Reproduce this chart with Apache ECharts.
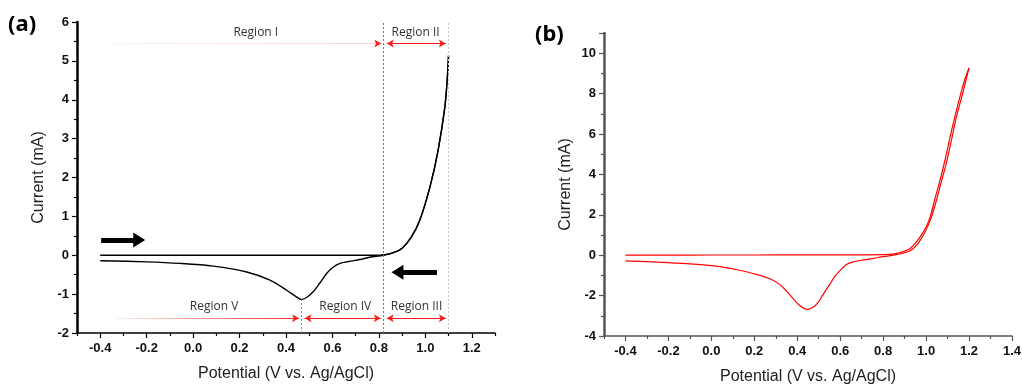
<!DOCTYPE html>
<html>
<head>
<meta charset="utf-8">
<script src="https://cdn.jsdelivr.net/npm/echarts@6/dist/echarts.min.js"></script>
<style>
  html, body { margin: 0; padding: 0; background: #fff; }
  #chart { width: 1022px; height: 387px; }
</style>
</head>
<body>
<div id="chart"></div>
<script>
// panel (a): potential (V) / current (mA)
const forwardA = [
  [-0.4, 0.0], [-0.2, 0.0], [0.0, 0.0], [0.2, 0.0], [0.4, 0.0], [0.6, 0.0], [0.7, 0.0],
  [0.78, 0.0], [0.82, 0.01], [0.86, 0.06], [0.9, 0.18], [0.94, 0.47], [0.976, 0.9],
  [1.02, 1.76], [1.055, 2.7], [1.084, 3.81], [1.094, 4.5], [1.1, 5.14]
];
const reverseA = [
  [1.1, 5.14], [1.094, 4.5], [1.084, 3.81], [1.055, 2.7], [1.02, 1.76], [0.976, 0.9],
  [0.94, 0.47], [0.9, 0.18], [0.86, 0.06], [0.82, 0.0], [0.76, -0.05], [0.718, -0.11],
  [0.67, -0.16], [0.632, -0.21], [0.6, -0.32], [0.575, -0.47], [0.545, -0.72], [0.517, -0.94],
  [0.49, -1.08], [0.467, -1.14], [0.44, -1.05], [0.403, -0.9], [0.331, -0.64], [0.231, -0.43],
  [0.087, -0.28], [-0.056, -0.21], [-0.2, -0.17], [-0.4, -0.14]
];

// panel (b)
const forwardB = [
  [-0.4, 0.0], [-0.2, 0.0], [0.0, 0.01], [0.2, 0.01], [0.4, 0.02], [0.6, 0.02], [0.8, 0.03],
  [0.86, 0.08], [0.9, 0.2], [0.926, 0.33], [0.95, 0.6], [0.972, 0.91], [1.0, 1.4],
  [1.019, 1.9], [1.04, 2.75], [1.065, 3.72], [1.09, 4.8], [1.112, 5.87], [1.135, 6.9],
  [1.158, 7.86], [1.18, 8.7], [1.2, 9.27]
];
const reverseB = [
  [1.2, 9.27], [1.17, 8.0], [1.14, 6.8], [1.12, 5.8], [1.095, 4.6], [1.07, 3.6], [1.045, 2.6],
  [1.02, 1.75], [0.99, 1.05], [0.96, 0.55], [0.93, 0.25], [0.9, 0.12], [0.86, 0.03],
  [0.833, -0.02], [0.8, -0.07], [0.755, -0.16], [0.7, -0.25], [0.66, -0.33], [0.631, -0.45],
  [0.6, -0.75], [0.575, -1.05], [0.553, -1.41], [0.52, -1.95], [0.5, -2.3], [0.48, -2.53],
  [0.462, -2.64], [0.445, -2.68], [0.43, -2.62], [0.41, -2.48], [0.385, -2.2], [0.35, -1.78],
  [0.321, -1.47], [0.28, -1.2], [0.21, -0.95], [0.12, -0.72], [0.06, -0.6], [0.0, -0.52],
  [-0.1, -0.43], [-0.2, -0.37], [-0.3, -0.32], [-0.4, -0.28]
];

const majorTicksA = [-0.4, -0.2, 0.0, 0.2, 0.4, 0.6, 0.8, 1.0, 1.2];
const minorTicksA = [-0.5, -0.3, -0.1, 0.1, 0.3, 0.5, 0.7, 0.9, 1.1, 1.3];
const majorTicksB = [-0.4, -0.2, 0.0, 0.2, 0.4, 0.6, 0.8, 1.0, 1.2, 1.4];
const minorTicksB = [-0.5, -0.3, -0.1, 0.1, 0.3, 0.5, 0.7, 0.9, 1.1, 1.3];

// region markers of panel (a)
const regionBounds = [0.467, 0.82, 1.1];
const regionLabels = ["Region I", "Region II", "Region III", "Region IV", "Region V"];

const FONT = "Liberation Sans, Arial, sans-serif";
const RED = "#ff1a1a";

const chart = echarts.init(document.getElementById("chart"));

function xAxes(gridIndex, min, max, major, minor, color) {
  return [
    {
      type: "value", gridIndex, min, max, position: "bottom",
      name: "Potential (V vs. Ag/AgCl)", nameLocation: "middle", nameGap: 33,
      nameTextStyle: { fontFamily: FONT, fontSize: 16, color: "#222" },
      axisLine: { onZero: false, lineStyle: { color, width: 1.5 } },
      axisTick: { customValues: major, length: 5, lineStyle: { color, width: 1.2 } },
      axisLabel: {
        customValues: major, margin: 9, fontFamily: FONT, fontSize: 13,
        fontWeight: "bold", color: "#111",
        formatter: v => v.toFixed(1)
      },
      splitLine: { show: false }
    },
    {
      type: "value", gridIndex, min, max, position: "bottom",
      axisLine: { show: false, onZero: false },
      axisTick: { customValues: minor, length: 3, lineStyle: { color, width: 1.2 } },
      axisLabel: { show: false },
      splitLine: { show: false }
    }
  ];
}

function yAxis(gridIndex, min, max, interval, color, hideMax) {
  return {
    type: "value", gridIndex, min, max, interval,
    name: "Current (mA)", nameLocation: "middle", nameGap: 30,
    nameTextStyle: { fontFamily: FONT, fontSize: 16, color: "#222" },
    axisLine: { show: true, onZero: false, lineStyle: { color, width: 2.5 } },
    axisTick: { show: true, length: 5, lineStyle: { color, width: 1.2 } },
    minorTick: { show: true, splitNumber: 2, length: 3, lineStyle: { color, width: 1.2 } },
    axisLabel: {
      margin: 8, fontFamily: FONT, fontSize: 13, fontWeight: "bold", color: "#111",
      formatter: v => (hideMax && v === max ? "" : String(v))
    },
    splitLine: { show: false }
  };
}

const paleRed = new echarts.graphic.LinearGradient(0, 0, 1, 0, [
  { offset: 0, color: "rgba(255,0,0,0.04)" },
  { offset: 1, color: "rgba(255,0,0,0.18)" }
]);
const fadeRed = new echarts.graphic.LinearGradient(0, 0, 1, 0, [
  { offset: 0, color: "rgba(255,0,0,0.05)" },
  { offset: 1, color: "rgba(255,0,0,0.85)" }
]);

const yTop = 5.45, yLow = -1.62;
const arrowEnd = { symbol: "arrow", symbolSize: [6, 7] };
const redLine = { color: RED, width: 1, type: "solid" };

function seg(x1, y1, x2, y2, s1, s2, lineStyle) {
  return [
    Object.assign({ coord: [x1, y1] }, s1 || { symbol: "none" }),
    Object.assign({ coord: [x2, y2], lineStyle }, s2 || { symbol: "none" })
  ];
}

const marksA = [
  // dotted region borders
  [{ coord: [regionBounds[1], -2], symbol: "none" },
   { coord: [regionBounds[1], 6], symbol: "none", lineStyle: { color: "#777", type: [2, 2], width: 1 } }],
  [{ coord: [regionBounds[2], -2], symbol: "none" },
   { coord: [regionBounds[2], 6], symbol: "none", lineStyle: { color: "#c8c8c8", type: [2, 2], width: 1 } }],
  [{ coord: [regionBounds[0], -2], symbol: "none" },
   { coord: [regionBounds[0], -1.14], symbol: "none", lineStyle: { color: "#888", type: [2, 2], width: 1 } }],
  // red region arrows
  seg(-0.366, yTop, 0.79, yTop, null, null, { color: paleRed, width: 1, type: "solid" }),
  seg(0.79, yTop, 0.81, yTop, null, arrowEnd, redLine),
  seg(0.834, yTop, 1.088, yTop, arrowEnd, arrowEnd, redLine),
  seg(-0.33, yLow, 0.44, yLow, null, null, { color: fadeRed, width: 1, type: "solid" }),
  seg(0.44, yLow, 0.456, yLow, null, arrowEnd, redLine),
  seg(0.48, yLow, 0.808, yLow, arrowEnd, arrowEnd, redLine),
  seg(0.834, yLow, 1.088, yLow, arrowEnd, arrowEnd, redLine),
  // black scan direction arrows
  seg(-0.396, 0.39, -0.232, 0.39, null, { symbol: "triangle", symbolSize: [15, 12] },
      { color: "#000", width: 5, type: "solid" }),
  seg(1.05, -0.44, 0.88, -0.44, null, { symbol: "triangle", symbolSize: [15, 12] },
      { color: "#000", width: 5, type: "solid" })
];

const regionText = [
  { name: regionLabels[0], coord: [0.27, 5.72] },
  { name: regionLabels[1], coord: [0.958, 5.72] },
  { name: regionLabels[4], coord: [0.09, -1.33] },
  { name: regionLabels[3], coord: [0.655, -1.33] },
  { name: regionLabels[2], coord: [0.962, -1.33] }
];

chart.setOption({
  animation: false,
  grid: [
    { left: 77, right: 527, top: 22, bottom: 54, outerBoundsMode: "none" },
    { left: 604, right: 10, top: 33, bottom: 51, outerBoundsMode: "none" }
  ],
  xAxis: [
    ...xAxes(0, -0.5, 1.3, majorTicksA, minorTicksA, "#000"),
    ...xAxes(1, -0.5, 1.4, majorTicksB, minorTicksB, "#555")
  ],
  yAxis: [
    yAxis(0, -2, 6, 1, "#000", false),
    yAxis(1, -4, 11, 2, "#555", true)
  ],
  graphic: [
    { type: "text", left: 8, top: 14, style: { text: "(a)", font: "bold 22px 'Noto Sans', sans-serif", fill: "#000" } },
    { type: "text", left: 535, top: 24, style: { text: "(b)", font: "bold 22px 'Noto Sans', sans-serif", fill: "#000" } }
  ],
  series: [
    {
      name: "forward a", type: "line", xAxisIndex: 0, yAxisIndex: 0,
      data: forwardA, showSymbol: false, smooth: 0.3,
      lineStyle: { color: "#000", width: 1.4 }, z: 3,
      markLine: {
        silent: true, symbol: "none", label: { show: false },
        emphasis: { disabled: true }, data: marksA
      },
      markPoint: {
        silent: true, symbol: "circle", symbolSize: 0,
        label: {
          show: true, position: "inside", formatter: "{b}",
          fontFamily: "Open Sans, sans-serif", fontSize: 12, color: "#333"
        },
        data: regionText
      }
    },
    {
      name: "reverse a", type: "line", xAxisIndex: 0, yAxisIndex: 0,
      data: reverseA, showSymbol: false, smooth: 0.3,
      lineStyle: { color: "#000", width: 1.4 }, z: 3
    },
    {
      name: "forward b", type: "line", xAxisIndex: 2, yAxisIndex: 1,
      data: forwardB, showSymbol: false, smooth: 0.3,
      lineStyle: { color: "#ff0000", width: 1.2 }
    },
    {
      name: "reverse b", type: "line", xAxisIndex: 2, yAxisIndex: 1,
      data: reverseB, showSymbol: false, smooth: 0.3,
      lineStyle: { color: "#ff0000", width: 1.2 }
    }
  ]
});
</script>
</body>
</html>
